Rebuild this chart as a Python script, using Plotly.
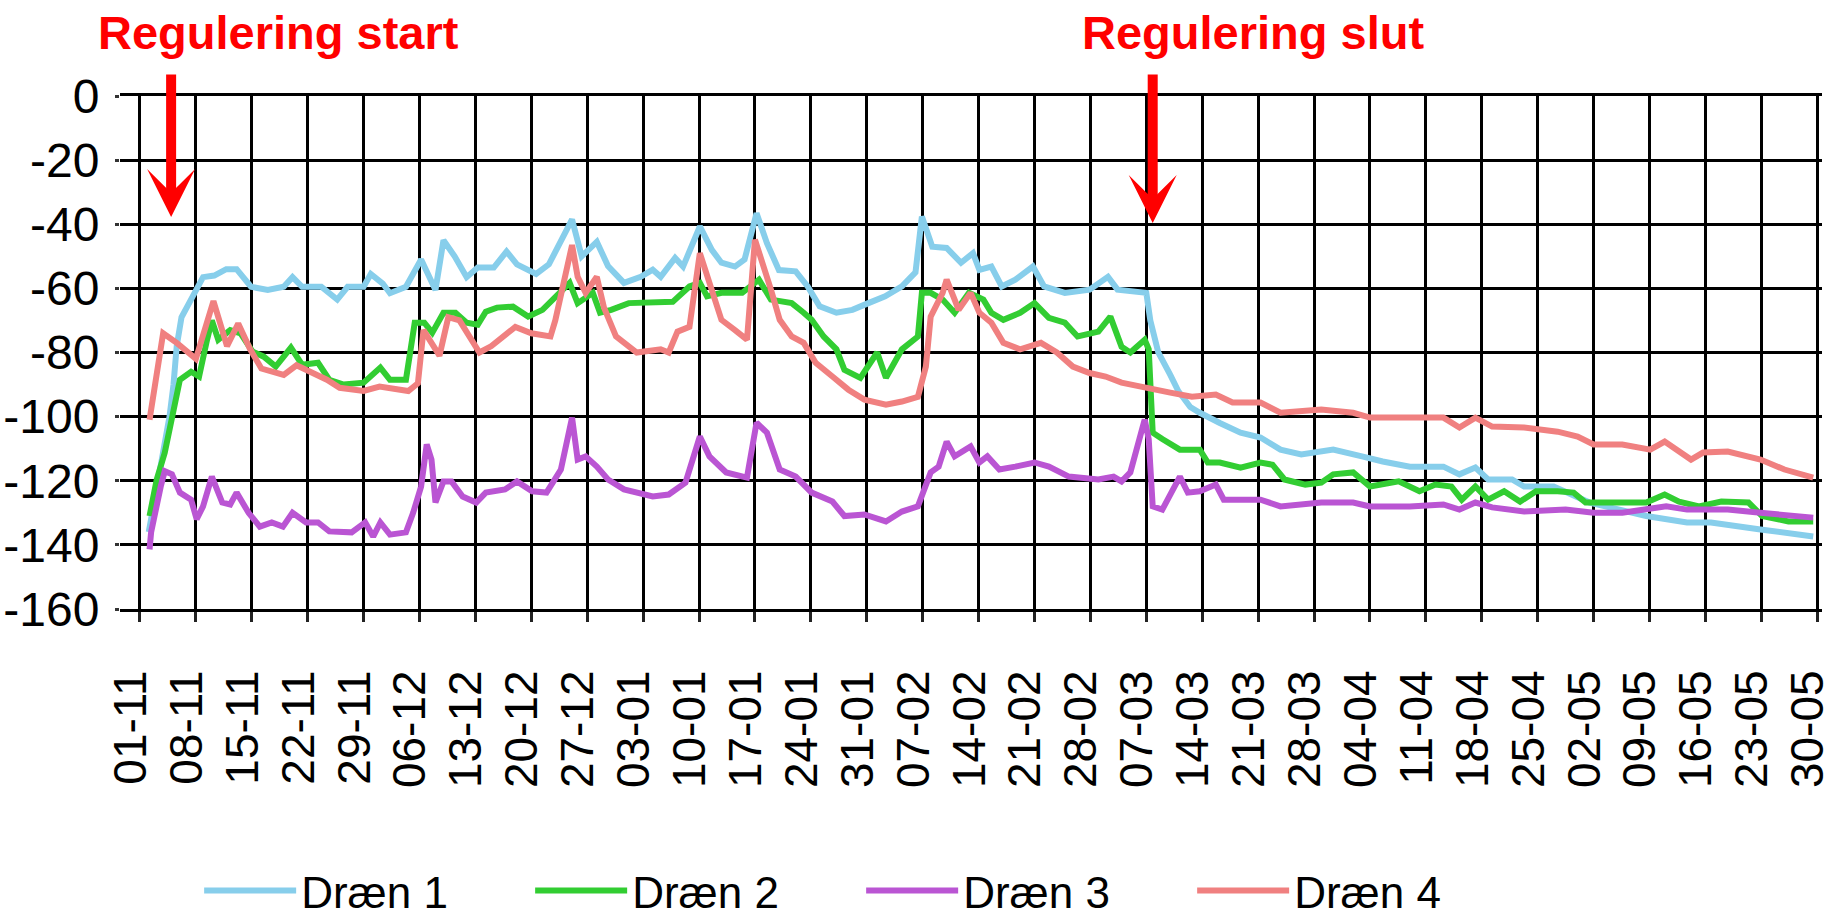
import pandas as pd
import plotly.graph_objects as go

START = pd.Timestamp("2014-11-01")

series_names = ["Dræn 1", "Dræn 2", "Dræn 3", "Dræn 4"]
series_colors = ["#87CEEB", "#32CD32", "#BA55D3", "#F08080"]

# day offsets from 01-11 and levels (cm)
d1_days = [1.1, 2.2, 3.1, 3.7, 4.2, 4.6, 5.2, 6.4, 7.9, 9.3, 10.8, 12.1, 13.9, 16, 18, 19.1, 20.3, 22.7, 24.7, 26, 28, 28.9,
           30.4, 31.3, 33.3, 35.2, 37, 38, 39.4, 40.9, 42.3, 44.3, 45.9, 47.2, 49.6, 51.2, 52.7, 54.1, 55.3, 57.2, 58.6,
           60.6, 62.7, 64.2, 65.2, 67, 68, 70.1, 71.6, 72.8, 74.5, 75.7, 77.2, 78.5, 80, 82.1, 83.6, 85.1, 87.2, 89.2,
           91.2, 93.3, 95.4, 97.1, 97.9, 99.2, 101, 102.8, 104.3, 105.1, 106.6, 107.9, 109.6, 111.8, 113.2, 115.8,
           118.9, 121.2, 122.4, 126, 126.5, 127.5, 129, 130, 131.5, 132.7, 135.2, 137.8, 140.3, 142.8, 145.4, 149.4,
           153, 155.6, 159, 163.2, 165.2, 167.2, 168.8, 171.8, 173.3, 177, 181.5, 188.6, 193.7, 196.7, 202.9, 209.5]
d1_vals = [-136, -121, -109, -100, -90, -78, -69, -63.5, -56.5, -56, -54, -54, -59.5, -60.5, -59.5, -56.5, -59.5, -59.5,
           -63.5, -59.5, -59.5, -55.5, -58.5, -61.5, -59.5, -51, -60.5, -45, -50, -56.5, -53.5, -53.5, -48.5, -52.5,
           -55.5, -52.5, -45, -38.5, -50, -45.5, -53, -58.3, -56.4, -54.2, -56.4, -50.5, -53.2, -40.7, -48, -52, -53.2,
           -51, -36.6, -45.9, -54.3, -54.7, -59.4, -65.6, -67.6, -66.7, -64.6, -62.5, -59.4, -55, -37.6, -47, -47.4,
           -52, -49, -54.2, -53.2, -59.4, -57.3, -53.2, -59.4, -61.4, -60.4, -56.4, -60.4, -61.4, -70, -80, -87, -92,
           -97, -98.8, -102, -105, -106.5, -110.3, -111.8, -110.3, -112.4, -114, -115.6, -115.6, -118, -115.9, -119.6,
           -119.6, -121.8, -121.8, -126.8, -131, -133, -133, -135.2, -137.4]

d2_days = [1.2, 2.1, 3.1, 4.5, 5, 6.4, 7.4, 8.4, 9, 9.8, 11.3, 12.6, 14.1, 15.5, 17, 18.9, 20.3, 22.3, 23.7, 25.5, 28,
           30.1, 31.3, 33.3, 34.4, 35.6, 36.6, 38, 39.5, 40.9, 42.3, 43.3, 44.7, 46.7, 48.6, 50.4, 51.4, 53.8, 54.8,
           56.7, 57.6, 59, 61.2, 64.2, 66.7, 68.8, 70.1, 71, 72.8, 75.4, 77.5, 79, 81.6, 83.1, 84.1, 85.6, 87.2, 88.2,
           90.2, 92.3, 93.4, 95.4, 97.4, 97.9, 99, 100.5, 102, 103.8, 105.6, 106.6, 108.1, 110.2, 112, 113.8, 115.8,
           117.4, 120, 121.5, 122.9, 124, 125.8, 126.3, 126.5, 126.8, 128, 130.2, 132.7, 133.7, 135.2, 137.8, 140.3,
           141.8, 143.3, 145.9, 147.9, 149.4, 151.9, 154, 157.6, 160.2, 162.2, 164.2, 165.5, 167.2, 168.8, 170.8,
           172.8, 174.8, 177.5, 179.5, 181, 188.6, 190.9, 192.7, 195.2, 198, 201.4, 203.1, 206.4, 209.5]
d2_vals = [-131, -119.6, -111.3, -94.7, -88.5, -86, -87.5, -76, -70, -76, -73, -74, -79.7, -81.3, -84.4, -78.5, -83.8,
           -83.2, -88.5, -90, -89.4, -84.7, -88.5, -88.5, -70.7, -70.7, -73.8, -67.6, -67.6, -70.7, -71.3, -67.3, -66,
           -65.7, -68.8, -66.7, -64.2, -58.3, -64.6, -61.4, -67.6, -66.7, -64.6, -64.6, -64.2, -59.4, -58.3, -62.5,
           -61.4, -61.4, -57.3, -63.5, -64.6, -67.6, -69.8, -75, -79, -85.4, -87.9, -80, -87.9, -79, -75, -61.4, -61.4,
           -63.5, -67.6, -61.4, -63.5, -67.6, -69.8, -67.6, -64.6, -69.2, -70.7, -75, -73.5, -68.8, -78.2, -80, -76,
           -79, -89.4, -105, -107, -110.3, -110.3, -114.3, -114.3, -115.9, -114.3, -115, -119.6, -121.2, -120.6, -118,
           -117.4, -121.8, -120.2, -123.3, -121.2, -121.8, -125.9, -121.8, -125.9, -123.3, -126.5, -123.3, -123.3,
           -123.7, -126.8, -126.8, -124.3, -126.5, -128, -126.5, -126.8, -131, -132.7, -132.7]

d3_days = [1.2, 1.4, 2.6, 3.1, 4, 5, 6.4, 7.1, 7.9, 9, 10.3, 11.3, 12.1, 13.6, 15, 16.5, 17.9, 19.1, 20.8, 22.3, 23.7,
           26.5, 28.2, 29.2, 30.1, 31.3, 33.3, 34.2, 35.2, 35.9, 36.5, 37, 38, 39, 40.4, 42.1, 43.3, 45.7, 47.2, 49.1,
           50.9, 52.7, 54.1, 54.8, 55.8, 57.2, 58.6, 60.6, 64.2, 66.2, 68.3, 70.1, 71.3, 73.4, 76, 77.2, 78.5, 80.1,
           82.1, 84.1, 86.7, 88.2, 90.7, 93.4, 95.4, 97.4, 99, 100, 101, 102, 104, 105.1, 106.1, 107.6, 109.6, 112,
           113.8, 116.3, 120, 121.9, 122.9, 124, 125.8, 126.3, 126.8, 128, 130.2, 131.2, 132.7, 134.7, 135.7, 140.3,
           142.8, 147.9, 151.9, 154, 159, 163.2, 165.2, 167.2, 169.3, 173.3, 178.5, 182, 185.6, 188.6, 191.1, 193.7,
           198.8, 202.9, 206.4, 209.5]
d3_vals = [-141.4, -136, -121.8, -117, -118, -123.7, -125.9, -132, -128, -118.7, -126.8, -127.4, -123.7, -130, -134.3,
           -133, -134.3, -130, -133, -133, -135.8, -136.1, -133, -137.4, -133, -136.8, -136.1, -130, -121.8, -108.7,
           -113.4, -126.8, -120.2, -120.2, -124.9, -126.8, -123.7, -122.7, -120.2, -123.3, -123.7, -116.5, -100.3,
           -113.4, -112.4, -115.6, -119.6, -122.7, -124.9, -124.3, -120.6, -106.2, -112.4, -117.4, -119, -101.9, -105,
           -116.5, -118.7, -123.7, -126.5, -131, -130.5, -132.7, -129.6, -128, -117.4, -115.6, -107.8, -112.4, -109.3,
           -114.3, -112.4, -116.5, -115.6, -114.3, -115.6, -118.7, -119.6, -118.7, -120.2, -117.4, -100.9, -107, -128,
           -129, -118.7, -123.7, -123.3, -121.2, -125.9, -125.9, -128, -126.8, -126.8, -128, -128, -127.4, -129, -126.8,
           -128.3, -129.6, -129, -130, -130, -129, -128, -129, -129, -130, -131, -131.5]

d4_days = [1.2, 2.9, 4.6, 7, 9.2, 10.9, 12.3, 13.8, 15.2, 18, 19.6, 21.5, 23.4, 25, 28, 30, 33.6, 34.8, 35.5, 37.5,
           38.6, 40, 42.5, 44, 47, 49, 51.4, 52, 53, 54.1, 54.8, 55.8, 57.2, 58.1, 59.6, 62.2, 65.2, 66.2, 67.3, 68.8,
           70.1, 71.6, 72.8, 74.5, 76, 77, 78, 79, 80.1, 81.6, 83.1, 84.6, 86.7, 88.7, 90.7, 93.4, 95.4, 97.4, 98.4,
           99, 100.5, 101, 102, 102.5, 104, 105.1, 106.6, 108.1, 110.2, 112.8, 114.8, 116.8, 118.9, 120.9, 122.9, 125,
           127, 129, 131.7, 134.7, 136.8, 140.3, 142.8, 147.9, 151.9, 154, 159, 163.2, 165.2, 167.2, 169.3, 173.3,
           177.5, 180, 182, 185.6, 189.1, 190.9, 194.2, 195.7, 198.8, 202.9, 205.9, 209.5]
d4_vals = [-101, -74, -77, -82, -64, -78, -71, -79, -85, -87, -84, -86, -88.5, -91, -92, -90.6, -92, -89.6, -73, -81,
           -69, -70, -80, -78, -72, -74, -75, -70, -58, -46.5, -56.4, -61.4, -56.4, -66, -75, -80, -79, -80, -73.5, -72,
           -49, -60.4, -69.8, -73, -76, -44.8, -52, -60.4, -69.8, -75, -77, -83.2, -87.5, -91.6, -94.7, -96.3, -95.3,
           -93.8, -84.4, -68.8, -61.4, -57.3, -63.5, -66.7, -61.4, -67.6, -70.7, -77, -79, -77, -80, -84.4, -86.4,
           -87.5, -89.4, -90.6, -91.6, -92.5, -93.8, -93.1, -95.6, -95.6, -98.8, -97.8, -98.8, -100.3, -100.3, -100.3,
           -103.4, -100.3, -103.1, -103.4, -104.7, -106.2, -108.7, -108.7, -110.3, -107.8, -113.4, -111.2, -110.9,
           -113.4, -116.5, -119]

all_days = [d1_days, d2_days, d3_days, d4_days]
all_vals = [d1_vals, d2_vals, d3_vals, d4_vals]

# annotations: text, arrow tip (day offset, level)
notes = ["Regulering start", "Regulering slut"]
arrow_days = [3.9, 126.8]
arrow_levels = [-37.7, -39.6]

y_ticks = [0, -20, -40, -60, -80, -100, -120, -140, -160]
y_ticktext = ["0", "-20", "-40", "-60", "-80", "-100", "-120", "-140", "-160"]


def to_dates(days):
    return START + pd.to_timedelta(pd.Series(days, dtype=float), unit="D")


fig = go.Figure()
for name, color, days, vals in zip(series_names, series_colors, all_days, all_vals):
    fig.add_trace(go.Scatter(x=to_dates(days), y=vals, mode="lines", name=name,
                             line=dict(color=color, width=6)))

font_fam = "Liberation Sans, Arial, sans-serif"

x_start = START - pd.Timedelta(days=2.5)
x_end = START + pd.Timedelta(days=210.6)

# page layout: paper area spans from 96 px to bottom (921 px); plot occupies 96..609 px
W, H = 1837, 921
TOP, BOTTOM = 96, 0
PAPER_H = H - TOP - BOTTOM
PLOT_BOTTOM_PX = 609


def paper_y(px):
    return (H - BOTTOM - px) / PAPER_H


fig.update_xaxes(
    type="date", range=[x_start, x_end], automargin=False,
    tick0=START, dtick=7 * 24 * 3600 * 1000, tickformat="%d-%m", tickangle=-90,
    showgrid=True, gridcolor="black", gridwidth=3,
    showline=True, linecolor="black", linewidth=3, mirror=True,
    ticks="outside", ticklen=10, tickwidth=3, tickcolor="#222222",
    tickfont=dict(family=font_fam, size=46, color="black"),
    ticklabelstandoff=30, ticklabelshift=-9, ticklabeloverflow="allow", zeroline=False,
)
fig.update_yaxes(
    domain=[paper_y(PLOT_BOTTOM_PX), 1],
    range=[-160, 0], tickvals=y_ticks, ticktext=y_ticktext, automargin=False,
    showgrid=True, gridcolor="black", gridwidth=3, zeroline=False,
    showline=False, ticks="outside", ticklen=4, tickwidth=3, tickcolor="#333333",
    tickfont=dict(family=font_fam, size=48, color="black"), ticklabelstandoff=6,
)

text_x = [0.0931, 0.6657]
for t, tx in zip(notes, text_x):
    fig.add_annotation(text="<b>" + t + "</b>", xref="paper", yref="paper", x=tx, y=paper_y(33),
                       xanchor="center", yanchor="middle", showarrow=False,
                       font=dict(family=font_fam, size=47, color="#FF0000"))

arrow_tail = [-144, -150]
for d, lv, ay in zip(arrow_days, arrow_levels, arrow_tail):
    fig.add_annotation(x=START + pd.Timedelta(days=d), y=lv, xref="x", yref="y", text="",
                       showarrow=True, arrowhead=3, arrowsize=0.8, arrowwidth=10, arrowcolor="#FF0000",
                       ax=0, ay=ay, standoff=0)

fig.update_layout(
    width=W, height=H,
    margin=dict(l=120, r=15, t=TOP, b=BOTTOM, autoexpand=False),
    paper_bgcolor="white", plot_bgcolor="white",
    showlegend=True,
    legend=dict(orientation="h", x=0.0465, y=paper_y(891), xanchor="left", yanchor="middle",
                itemwidth=92, entrywidth=224, entrywidthmode="pixels",
                font=dict(family=font_fam, size=44, color="black"),
                bgcolor="rgba(0,0,0,0)"),
)

fig.write_html("out.html", config={"displayModeBar": False},
               post_script="document.body.style.margin='0';")
